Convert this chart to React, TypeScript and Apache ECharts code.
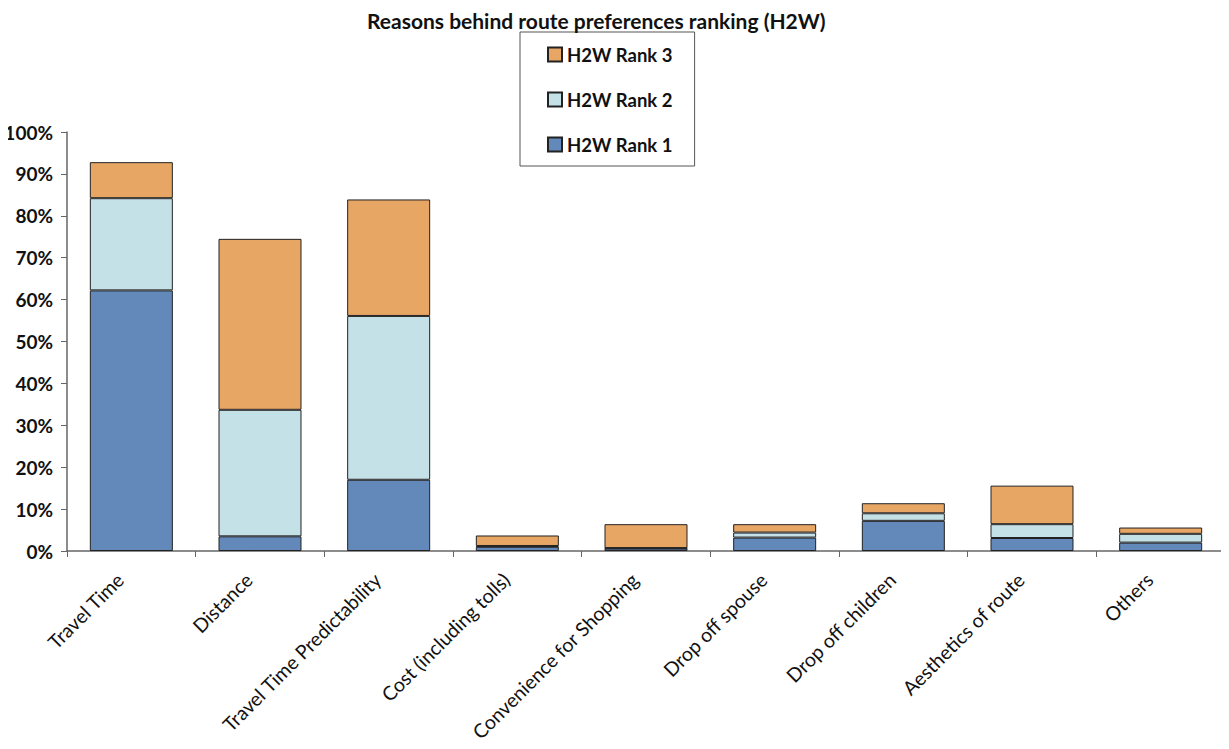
import React, { useEffect, useRef } from "react";
import * as echarts from "echarts";

const categories = [
  "Travel Time",
  "Distance",
  "Travel Time Predictability",
  "Cost (including tolls)",
  "Convenience for Shopping",
  "Drop off spouse",
  "Drop off children",
  "Aesthetics of route",
  "Others",
];
const rank1 = [62.2, 3.5, 17.0, 1.0, 0.6, 3.2, 7.2, 3.1, 2.0];
const rank2 = [22.0, 30.2, 39.1, 0.2, 0.1, 1.2, 1.8, 3.3, 2.1];
const rank3 = [8.6, 40.8, 27.8, 2.5, 5.7, 2.0, 2.4, 9.2, 1.5];
const yTicks = [0, 10, 20, 30, 40, 50, 60, 70, 80, 90, 100];

const FONT = "Lato";

export default function App() {
  const ref = useRef<HTMLDivElement>(null);
  useEffect(() => {
    if (!ref.current) return;
    const chart = echarts.init(ref.current, null, { renderer: "svg" });
    const mk = (name: string, data: number[], color: string) => ({
      name,
      type: "bar",
      stack: "s",
      data,
      barCategoryGap: "35.5%",
      itemStyle: { color, borderColor: "#222", borderWidth: 1 },
    });
    chart.setOption({
      animation: false,
      backgroundColor: "#fff",
      title: {
        text: "Reasons behind route preferences ranking (H2W)",
        left: 362,
        top: 5,
        textStyle: { fontFamily: FONT, fontWeight: "bold", fontSize: 21, color: "#111" },
      },
      legend: {
        orient: "vertical",
        left: 520,
        top: 32,
        width: 175,
        data: ["H2W Rank 3", "H2W Rank 2", "H2W Rank 1"],
        itemWidth: 14,
        itemHeight: 14,
        itemGap: 26,
        padding: [13, 22, 12, 27],
        borderColor: "#555",
        borderWidth: 1,
        icon: "rect",
        textStyle: {
          fontFamily: FONT,
          fontWeight: "bold",
          fontSize: 18.5,
          color: "#111",
        },
      },
      grid: {
        left: 67,
        right: 4,
        top: 132,
        bottom: 198,
        containLabel: false,
        outerBoundsMode: "none",
      },
      xAxis: {
        type: "category",
        data: categories,
        axisLine: { lineStyle: { color: "#666", width: 1.5 } },
        axisTick: { show: true, alignWithLabel: false, length: 6, lineStyle: { color: "#666" } },
        axisLabel: {
          rotate: 45,
          interval: 0,
          margin: 14,
          padding: [0, 16, 0, 0],
          fontFamily: FONT,
          fontSize: 19.5,
          color: "#111",
        },
      },
      yAxis: {
        type: "value",
        min: 0,
        max: 100,
        interval: 10,
        splitLine: { show: false },
        axisLine: { show: true, lineStyle: { color: "#666", width: 1.5 } },
        axisTick: { show: true, length: 6, lineStyle: { color: "#666" } },
        axisLabel: {
          formatter: (v: number) => (yTicks.includes(v) ? v + "%" : ""),
          fontFamily: FONT,
          fontWeight: "bold",
          fontSize: 19,
          color: "#111",
          margin: 14,
        },
      },
      series: [
        mk("H2W Rank 1", rank1, "#6289BA"),
        mk("H2W Rank 2", rank2, "#C5E1E8"),
        mk("H2W Rank 3", rank3, "#E8A664"),
      ],
    });
    return () => chart.dispose();
  }, []);
  return <div ref={ref} style={{ width: 1229, height: 749, margin: -8 }} />;
}
